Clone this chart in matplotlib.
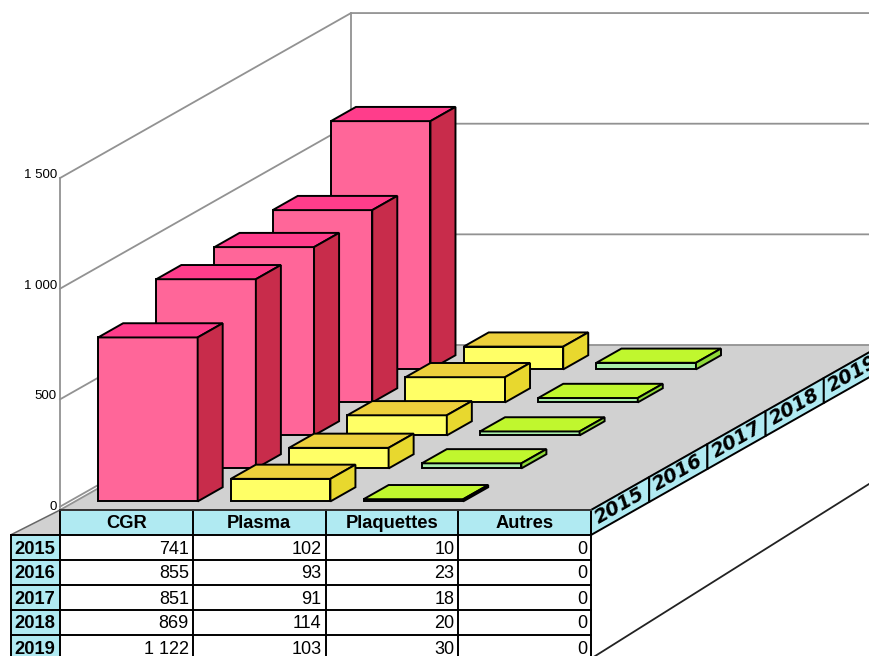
import matplotlib
matplotlib.use("Agg")
import matplotlib.pyplot as plt
from matplotlib.patches import Polygon

years = ["2015", "2016", "2017", "2018", "2019"]
categories = ["CGR", "Plasma", "Plaquettes", "Autres"]
cgr = [741, 855, 851, 869, 1122]
plasma = [102, 93, 91, 114, 103]
plaquettes = [10, 23, 18, 20, 30]
autres = [0, 0, 0, 0, 0]
y_ticks = [0, 500, 1000, 1500]

# front, top, side colours for each drawn series
bar_colors = [("#ff6699", "#ff3d8b", "#c82c4b"),
              ("#ffff66", "#edd03c", "#e8d82e"),
              ("#a8eea8", "#c0f72e", "#8fd93a")]

GRID = "#929292"
FLOOR = "#d1d1d1"
CYAN = "#b0eaf2"
TABLE_FONT = "Liberation Sans"
ROW_H = 25
LINE = 1.4


def project(cat, depth, value):       # oblique view: category, year depth, value -> pixel
    return (60 + 132.75 * cat + 58.2 * depth,
            510 - 33 * depth - 0.2213 * value)


def group(n):       # thousands with a space, 1122 -> 1 122
    return "{:,}".format(n).replace(",", " ")


def face(ax, pts, color, ec="black", lw=LINE, z=2):
    ax.add_patch(Polygon(pts, closed=True, facecolor=color, edgecolor=ec,
                         linewidth=lw, joinstyle="miter", zorder=z))


def draw_bar(ax, cat, year, value, colors, z):
    c0, c1 = cat + 0.173, cat + 0.923
    d0, d1 = year + 0.26, year + 0.69
    front, top, side = colors
    face(ax, [project(c0, d0, 0), project(c1, d0, 0), project(c1, d0, value), project(c0, d0, value)], front, z=z)
    face(ax, [project(c0, d0, value), project(c1, d0, value), project(c1, d1, value), project(c0, d1, value)], top, z=z)
    face(ax, [project(c1, d0, 0), project(c1, d1, 0), project(c1, d1, value), project(c1, d0, value)], side, z=z)


fig = plt.figure(figsize=(8.69, 6.56), dpi=100)
ax = fig.add_axes([0, 0, 1, 1])
ax.set_xlim(0, 869)
ax.set_ylim(656, 0)
ax.axis("off")

n_cat = len(categories)
n_year = len(years)
tx = [project(c, 0, 0)[0] for c in range(n_cat + 1)]    # column edges, also the table's
top_y = project(0, 0, 0)[1]

# floor
face(ax, [project(0, 0, 0), project(0, n_year, 0), project(n_cat, n_year, 0), project(n_cat, 0, 0)], FLOOR, ec=GRID, lw=1.3, z=1)
face(ax, [(10.5, top_y + ROW_H), (tx[0], top_y), (tx[0], top_y + ROW_H)], FLOOR, ec="#666666", lw=1.1, z=1)
# second edge of the floor along the left wall
p0 = project(0, 0, 15)
p1 = project(0, n_year, 15)
ax.plot([p0[0], p1[0]], [p0[1], p1[1]], color=GRID, lw=1.3, zorder=1.5)

# walls and gridlines
for t in y_ticks[1:]:
    a = project(0, 0, t)
    b = project(0, n_year, t)
    ax.plot([a[0], b[0], 869], [a[1], b[1], b[1]], color=GRID, lw=1.3, zorder=0.5)
a = project(0, 0, 0)
b = project(0, 0, y_ticks[-1])
ax.plot([a[0], b[0]], [a[1] - 2, b[1]], color=GRID, lw=1.3, zorder=1.6)
a = project(0, n_year, 0)
b = project(0, n_year, y_ticks[-1])
ax.plot([a[0], b[0]], [a[1], b[1]], color=GRID, lw=1.3, zorder=0.5)

for t in y_ticks:
    x, y = project(0, 0, t)
    ax.text(x - 3, y - 3, group(t), ha="right", va="center", fontsize=9.5,
            family=TABLE_FONT, zorder=3)

# bars, back row first; Autres is all zero and gets no bar
series = [cgr, plasma, plaquettes]
z = 2
for yr in range(n_year - 1, -1, -1):
    for c, vals in enumerate(series):
        z += 0.01
        draw_bar(ax, c, yr, vals[yr], bar_colors[c], z)

# data table
TZ = 5
ax.add_patch(Polygon([(tx[0], top_y), (tx[-1], top_y), (tx[-1], top_y + ROW_H), (tx[0], top_y + ROW_H)],
                     facecolor=CYAN, edgecolor="none", zorder=TZ))
ax.add_patch(Polygon([(10.5, top_y + ROW_H), (tx[0], top_y + ROW_H), (tx[0], 670), (10.5, 670)],
                     facecolor=CYAN, edgecolor="none", zorder=TZ))
row_edges = [top_y + ROW_H * i for i in range(n_year + 2)]
for c in range(n_cat + 1):
    ax.plot([tx[c], tx[c]], [top_y, 670], color="black", lw=LINE, zorder=TZ + 1)
ax.plot([10.5, 10.5], [row_edges[1], 670], color="black", lw=LINE, zorder=TZ + 1)
ax.plot([tx[0], tx[-1]], [top_y, top_y], color="#333333", lw=LINE, zorder=TZ + 1)
for y in row_edges[1:]:
    ax.plot([10.5, tx[-1]], [y, y], color="black", lw=LINE, zorder=TZ + 1)

for c, name in enumerate(categories):
    ax.text((tx[c] + tx[c + 1]) / 2, top_y + ROW_H / 2 + 1.5, name, ha="center", va="center",
            fontsize=13.2, fontweight="bold", family=TABLE_FONT, zorder=TZ + 2)
for r, yr in enumerate(years):
    ym = row_edges[r + 1] + ROW_H / 2 + 1.5
    ax.text(35, ym, yr, ha="center", va="center", fontsize=13.2, fontweight="bold",
            family=TABLE_FONT, zorder=TZ + 2)
    for c, vals in enumerate([cgr, plasma, plaquettes, autres]):
        ax.text(tx[c + 1] - 4, ym, group(vals[r]), ha="right", va="center", fontsize=13,
                family=TABLE_FONT, zorder=TZ + 2)

# year labels on the table's slanted side
for d, yr in enumerate(years):
    a = project(n_cat, d, 0)
    b = project(n_cat, d + 1, 0)
    face(ax, [a, b, (b[0], b[1] + ROW_H), (a[0], a[1] + ROW_H)], CYAN, z=TZ)
    ax.text((a[0] + b[0]) / 2, (a[1] + b[1]) / 2 + ROW_H / 2, yr, rotation=29.6, rotation_mode="anchor",
            ha="center", va="center", fontsize=14, fontweight="bold", style="oblique",
            family="DejaVu Sans", zorder=TZ + 2)

# lower edge of the table's side
ax.plot([592, 869], [658, 484], color="#222222", lw=1.3, zorder=TZ)

fig.savefig("out.png", dpi=100)
